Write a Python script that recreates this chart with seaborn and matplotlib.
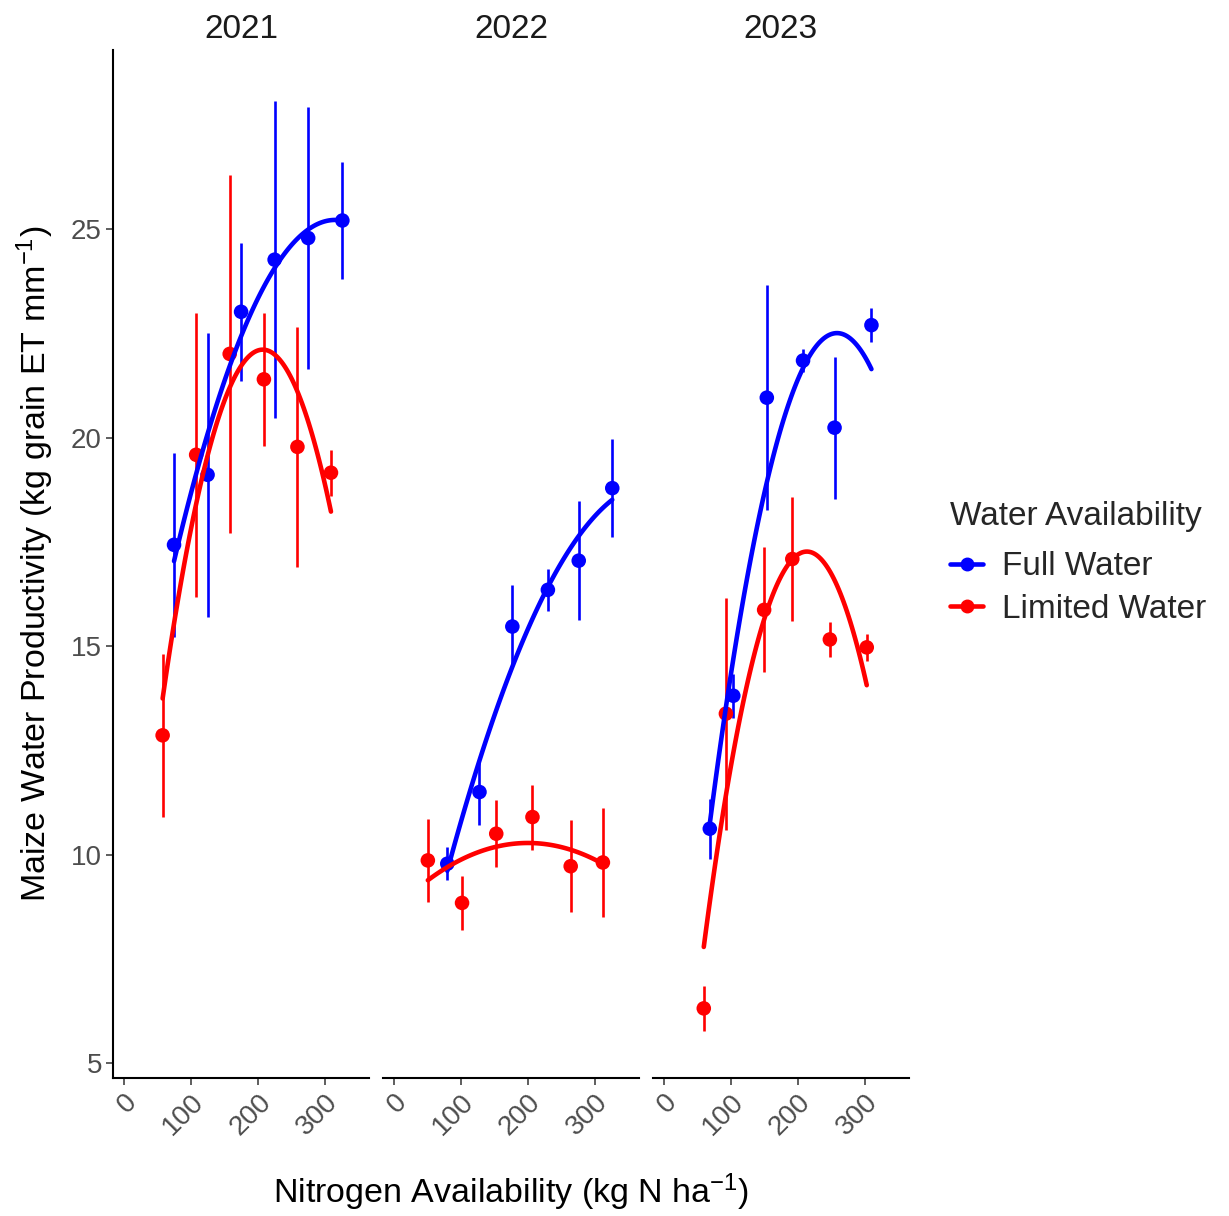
import numpy as np
import pandas as pd
import matplotlib
matplotlib.use("Agg")
import matplotlib.pyplot as plt
from matplotlib.lines import Line2D
import seaborn as sns

# ---------------- data ----------------
years = ["2021", "2022", "2023"]
groups = ["Full Water", "Limited Water"]
colors = {"Full Water": "#0000FF", "Limited Water": "#FF0000"}

n_full_2021 = [75, 125, 175, 225, 275, 326]
wp_full_2021 = [17.43, 19.11, 23.02, 24.27, 24.79, 25.21]
se_full_2021 = [2.2, 3.4, 1.65, 3.8, 3.15, 1.4]
n_lim_2021 = [58, 108, 158, 209, 259, 309]
wp_lim_2021 = [12.86, 19.59, 22.01, 21.40, 19.78, 19.16]
se_lim_2021 = [1.96, 3.4, 4.3, 1.6, 2.88, 0.55]

n_full_2022 = [80, 128, 177, 230, 276, 326]
wp_full_2022 = [9.78, 11.50, 15.47, 16.35, 17.05, 18.79]
se_full_2022 = [0.4, 0.8, 1.0, 0.5, 1.43, 1.17]
n_lim_2022 = [51, 102, 153, 207, 264, 312]
wp_lim_2022 = [9.86, 8.84, 10.50, 10.90, 9.72, 9.81]
se_lim_2022 = [1.0, 0.65, 0.8, 0.78, 1.1, 1.3]

n_full_2023 = [69, 104, 154, 208, 255, 310]
wp_full_2023 = [10.62, 13.81, 20.96, 21.85, 20.24, 22.70]
se_full_2023 = [0.72, 0.53, 2.7, 0.28, 1.7, 0.4]
n_lim_2023 = [60, 93, 150, 192, 248, 303]
wp_lim_2023 = [6.31, 13.38, 15.87, 17.09, 15.16, 14.97]
se_lim_2023 = [0.54, 2.78, 1.5, 1.48, 0.42, 0.33]

x_ticks = [0, 100, 200, 300]
y_ticks = [5, 10, 15, 20, 25]

series = [
    ("2021", "Full Water", n_full_2021, wp_full_2021, se_full_2021),
    ("2021", "Limited Water", n_lim_2021, wp_lim_2021, se_lim_2021),
    ("2022", "Full Water", n_full_2022, wp_full_2022, se_full_2022),
    ("2022", "Limited Water", n_lim_2022, wp_lim_2022, se_lim_2022),
    ("2023", "Full Water", n_full_2023, wp_full_2023, se_full_2023),
    ("2023", "Limited Water", n_lim_2023, wp_lim_2023, se_lim_2023),
]
frames = []
for yr, grp, n, wp, se in series:
    frames.append(pd.DataFrame({"year": yr, "water": grp, "N": n, "WP": wp, "se": se}))
df = pd.concat(frames, ignore_index=True)

# ---------------- style ----------------
sns.set_theme(style="white")
plt.rcParams["font.family"] = ["Liberation Sans", "DejaVu Sans"]
plt.rcParams["mathtext.fontset"] = "custom"
plt.rcParams["mathtext.rm"] = "Liberation Sans"
plt.rcParams["mathtext.it"] = "Liberation Sans:italic"
plt.rcParams["mathtext.bf"] = "Liberation Sans:bold"

W, H = 1229, 1216
fig = plt.figure(figsize=(W / 100, H / 100), dpi=100)
left, right = 113 / W, 909 / W
top, bottom = 1 - 50 / H, 1 - 1078 / H
fig.subplots_adjust(left=left, right=right, top=top, bottom=bottom, wspace=0.0535)
axes = fig.subplots(1, 3, sharey=True)

tick_grey = "#4D4D4D"
for i, (ax, yr) in enumerate(zip(axes, years)):
    sub = df[df["year"] == yr]
    for grp in groups:
        d = sub[sub["water"] == grp]
        c = colors[grp]
        ax.errorbar(d["N"], d["WP"], yerr=d["se"], fmt="none", ecolor=c,
                    elinewidth=1.9, capsize=0, zorder=2)
        sns.scatterplot(data=d, x="N", y="WP", color=c, s=110, edgecolor="none",
                        ax=ax, zorder=3, legend=False)
        sns.regplot(data=d, x="N", y="WP", order=2, ci=None, scatter=False,
                    truncate=True, color=c, line_kws={"lw": 3.3, "zorder": 4}, ax=ax)
    ax.set_xlim(-16, 366)
    ax.set_ylim(4.64, 29.3)
    ax.set_xticks(x_ticks)
    ax.set_xticklabels([str(t) for t in x_ticks], rotation=45, ha="right",
                       rotation_mode="anchor", fontsize=20, color=tick_grey)
    ax.set_title(yr, fontsize=24, color="#1A1A1A", pad=9)
    ax.set_xlabel("")
    ax.set_ylabel("")
    for s in ["top", "right"]:
        ax.spines[s].set_visible(False)
    ax.spines["bottom"].set_color("black")
    ax.spines["bottom"].set_linewidth(1.5)
    ax.tick_params(axis="x", length=5, width=1.1, color="#333333", pad=3, bottom=True)
    if i == 0:
        ax.spines["left"].set_color("black")
        ax.spines["left"].set_linewidth(1.5)
        ax.set_yticks(y_ticks)
        ax.set_yticklabels([str(t) for t in y_ticks], fontsize=20, color=tick_grey)
        ax.tick_params(axis="y", length=5, width=1.1, color="#333333", pad=3, left=True)
    else:
        ax.spines["left"].set_visible(False)
        ax.tick_params(axis="y", left=False, labelleft=False)
    ax.grid(False)

fig.text((left + right) / 2, 1 - 1192 / H, r"Nitrogen Availability (kg N ha$^{-1}$)",
         ha="center", va="center", fontsize=24.5, color="black")
fig.text(35 / W, (top + bottom) / 2, r"Maize Water Productivity (kg grain ET mm$^{-1}$)",
         ha="center", va="center", rotation=90, fontsize=24.5, color="black")

handles = [Line2D([0], [0], color=colors[g], lw=3.3, marker="o", markersize=9) for g in groups]
leg = fig.legend(handles, groups, title="Water Availability", loc="upper left",
                 bbox_to_anchor=(950 / W, 1 - 501 / H), frameon=False,
                 fontsize=24, title_fontsize=24, alignment="left",
                 borderpad=0, borderaxespad=0,
                 handlelength=1.0, handletextpad=0.57, labelspacing=0.34)
leg._legend_box.sep = 14

fig.savefig("out.png", dpi=100)
